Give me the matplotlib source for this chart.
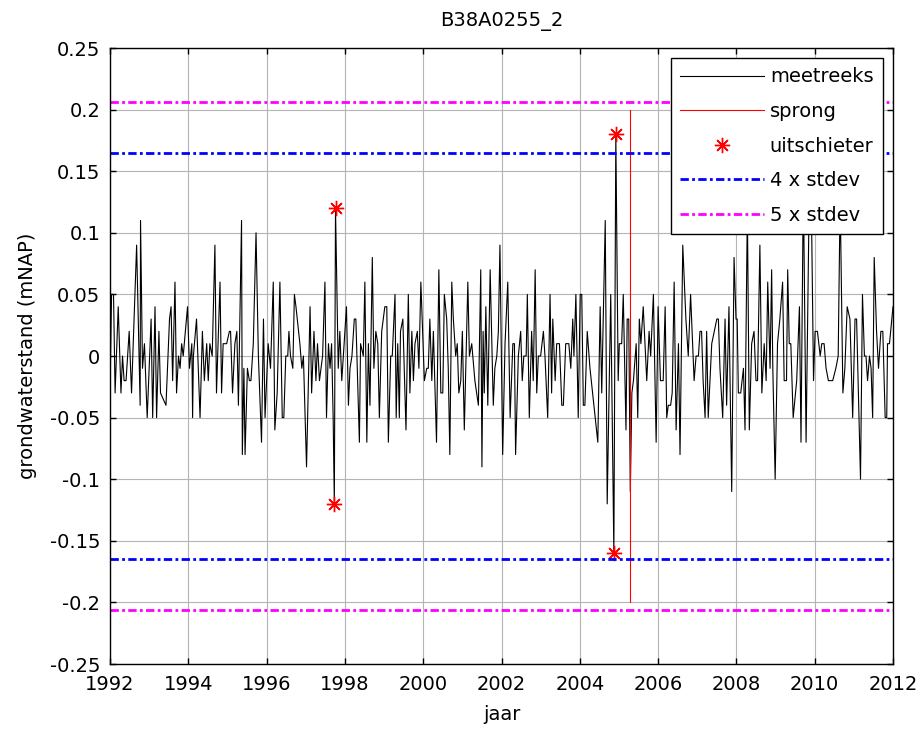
import matplotlib
matplotlib.use("Agg")
import matplotlib.pyplot as plt

plt.rcParams['font.family'] = ['DejaVu Sans']
plt.rcParams['font.size'] = 14

# meetreeks (jaar, grondwaterstand)
jaar = [
    1992.00, 1992.04, 1992.09, 1992.13, 1992.21, 1992.28, 1992.32, 1992.36, 1992.41, 1992.49, 1992.55, 1992.68, 1992.77, 1992.78, 1992.83, 1992.88, 1992.95,
    1993.05, 1993.09, 1993.15, 1993.19, 1993.25, 1993.29, 1993.43, 1993.52, 1993.56, 1993.60, 1993.66, 1993.70, 1993.75, 1993.79, 1993.83, 1993.87, 1993.98,
    1994.03, 1994.09, 1994.11, 1994.13, 1994.21, 1994.30, 1994.36, 1994.41, 1994.47, 1994.51, 1994.55, 1994.61, 1994.68, 1994.72, 1994.81, 1994.85, 1994.89, 1994.98,
    1995.05, 1995.08, 1995.13, 1995.19, 1995.24, 1995.28, 1995.36, 1995.38, 1995.42, 1995.45, 1995.51, 1995.56, 1995.60, 1995.66, 1995.73, 1995.79, 1995.87, 1995.92, 1995.96,
    1996.04, 1996.10, 1996.17, 1996.21, 1996.27, 1996.34, 1996.40, 1996.44, 1996.49, 1996.54, 1996.57, 1996.61, 1996.67, 1996.71, 1996.75, 1996.85, 1996.90, 1996.94,
    1997.02, 1997.11, 1997.15, 1997.21, 1997.26, 1997.30, 1997.35, 1997.43, 1997.49, 1997.53, 1997.58, 1997.62, 1997.66, 1997.70, 1997.73, 1997.76, 1997.83, 1997.87, 1997.92, 1997.96,
    1998.04, 1998.09, 1998.13, 1998.18, 1998.24, 1998.28, 1998.37, 1998.40, 1998.47, 1998.51, 1998.56, 1998.60, 1998.64, 1998.70, 1998.74, 1998.79, 1998.84, 1998.88, 1998.94,
    1999.02, 1999.07, 1999.11, 1999.17, 1999.21, 1999.28, 1999.31, 1999.35, 1999.39, 1999.42, 1999.48, 1999.56, 1999.62, 1999.66, 1999.71, 1999.75, 1999.79, 1999.85, 1999.89, 1999.94,
    2000.03, 2000.09, 2000.13, 2000.17, 2000.22, 2000.26, 2000.34, 2000.40, 2000.45, 2000.50, 2000.54, 2000.60, 2000.64, 2000.68, 2000.73, 2000.77, 2000.83, 2000.87, 2000.91, 2000.96,
    2001.00, 2001.05, 2001.14, 2001.18, 2001.24, 2001.32, 2001.41, 2001.47, 2001.50, 2001.53, 2001.56, 2001.60, 2001.65, 2001.71, 2001.79, 2001.83, 2001.88, 2001.92, 2001.96,
    2002.03, 2002.09, 2002.16, 2002.22, 2002.29, 2002.33, 2002.36, 2002.43, 2002.49, 2002.53, 2002.57, 2002.63, 2002.66, 2002.71, 2002.77, 2002.81, 2002.86, 2002.90, 2002.94,
    2003.00, 2003.07, 2003.11, 2003.18, 2003.24, 2003.28, 2003.31, 2003.37, 2003.41, 2003.48, 2003.54, 2003.58, 2003.64, 2003.72, 2003.77, 2003.82, 2003.85, 2003.90, 2003.96,
    2004.01, 2004.05, 2004.09, 2004.13, 2004.19, 2004.26, 2004.46, 2004.52, 2004.56, 2004.65, 2004.70, 2004.79, 2004.87, 2004.92, 2004.98,
    2005.01, 2005.07, 2005.11, 2005.18, 2005.21, 2005.25, 2005.29, 2005.33, 2005.37, 2005.44, 2005.48, 2005.52, 2005.56, 2005.62, 2005.71, 2005.77, 2005.81, 2005.88, 2005.95,
    2006.00, 2006.06, 2006.13, 2006.18, 2006.22, 2006.26, 2006.32, 2006.36, 2006.41, 2006.46, 2006.52, 2006.56, 2006.63, 2006.71, 2006.77, 2006.83, 2006.92, 2006.97,
    2007.03, 2007.07, 2007.11, 2007.15, 2007.20, 2007.24, 2007.28, 2007.37, 2007.50, 2007.54, 2007.58, 2007.65, 2007.71, 2007.75, 2007.81, 2007.88, 2007.94, 2007.99,
    2008.02, 2008.05, 2008.11, 2008.18, 2008.22, 2008.28, 2008.33, 2008.39, 2008.45, 2008.50, 2008.54, 2008.60, 2008.65, 2008.71, 2008.76, 2008.80, 2008.86, 2008.90, 2008.93, 2008.99,
    2009.05, 2009.11, 2009.18, 2009.22, 2009.28, 2009.31, 2009.35, 2009.39, 2009.45, 2009.54, 2009.61, 2009.65, 2009.71, 2009.78, 2009.86, 2009.92, 2009.97,
    2010.01, 2010.07, 2010.14, 2010.18, 2010.24, 2010.29, 2010.35, 2010.46, 2010.54, 2010.60, 2010.65, 2010.72, 2010.77, 2010.83, 2010.90, 2010.97,
    2011.03, 2011.07, 2011.17, 2011.22, 2011.27, 2011.31, 2011.35, 2011.40, 2011.44, 2011.48, 2011.52, 2011.58, 2011.63, 2011.69, 2011.74, 2011.80, 2011.84, 2011.86, 2011.91, 2011.97,
    2012.00,
]
stand = [
    -0.03, 0.05, 0.05, -0.03, 0.04, -0.03, 0.00, -0.02, -0.02, 0.02, -0.03, 0.09, -0.04, 0.11, -0.01, 0.01, -0.05,
    0.03, -0.05, 0.04, -0.05, 0.02, -0.03, -0.04, 0.03, 0.04, -0.02, 0.06, -0.03, 0.00, -0.01, 0.01, 0.00, 0.04,
    -0.01, 0.01, -0.05, 0.00, 0.03, -0.05, 0.02, -0.02, 0.01, -0.02, 0.01, 0.00, 0.09, -0.03, 0.06, -0.03, 0.01, 0.01,
    0.02, 0.02, -0.03, 0.01, 0.02, -0.04, 0.11, -0.08, -0.01, -0.08, -0.01, -0.02, -0.02, 0.01, 0.10, 0.00, -0.07, 0.03, -0.05,
    0.01, -0.01, 0.06, -0.06, -0.03, 0.06, -0.05, -0.05, 0.00, 0.00, 0.02, 0.00, -0.01, 0.05, 0.04, 0.01, -0.01, 0.00,
    -0.09, 0.04, -0.03, 0.02, -0.02, 0.01, -0.02, 0.00, 0.06, -0.05, 0.01, -0.01, 0.01, -0.05, -0.12, 0.12, -0.01, 0.02, -0.02, 0.00,
    0.04, -0.04, -0.01, 0.00, 0.03, 0.03, -0.07, 0.01, 0.00, 0.06, -0.07, 0.01, -0.04, 0.08, -0.01, 0.02, 0.01, -0.05, 0.02,
    0.04, 0.04, -0.07, 0.00, 0.00, 0.05, -0.05, 0.01, -0.05, 0.02, 0.03, -0.06, 0.05, -0.03, 0.02, -0.02, 0.01, 0.02, -0.01, 0.06,
    -0.02, -0.01, -0.01, 0.03, -0.02, 0.02, -0.07, 0.07, -0.03, -0.03, 0.05, 0.03, -0.01, -0.08, 0.06, 0.03, 0.00, 0.01, -0.03, -0.02,
    0.02, -0.06, 0.06, 0.00, 0.01, -0.02, -0.04, 0.07, -0.09, 0.02, -0.03, 0.04, -0.04, 0.07, -0.04, -0.01, 0.00, 0.02, 0.09,
    -0.08, 0.01, 0.06, -0.05, 0.01, 0.01, -0.08, 0.00, 0.02, -0.02, 0.00, 0.00, 0.05, -0.05, 0.02, -0.02, 0.07, -0.03, 0.00,
    0.00, 0.02, 0.00, -0.05, 0.05, -0.03, 0.03, -0.02, 0.01, 0.01, -0.04, -0.04, 0.01, 0.01, -0.01, 0.03, 0.00, 0.05, -0.05,
    0.05, 0.05, -0.04, -0.04, 0.02, -0.01, -0.07, 0.04, -0.03, 0.11, -0.12, 0.05, -0.16, 0.18, -0.02,
    0.01, 0.01, 0.05, -0.06, 0.03, 0.03, -0.11, -0.03, -0.02, 0.01, -0.05, 0.03, 0.01, 0.04, -0.02, 0.02, 0.00, 0.05, -0.07,
    0.04, -0.02, -0.02, 0.04, -0.05, -0.04, -0.04, -0.03, 0.06, -0.06, 0.01, -0.08, 0.09, 0.03, 0.00, 0.05, -0.02, 0.00,
    0.00, 0.02, 0.02, -0.02, -0.05, 0.02, -0.05, 0.01, 0.03, 0.03, -0.01, -0.05, 0.03, -0.04, 0.04, -0.11, 0.08, 0.03,
    0.03, -0.03, -0.03, -0.01, -0.06, 0.12, -0.06, 0.01, 0.02, -0.02, -0.02, 0.09, -0.03, 0.01, -0.02, 0.06, -0.01, 0.07, -0.01, -0.10,
    0.01, 0.03, 0.06, -0.02, -0.02, 0.07, 0.01, 0.01, -0.05, -0.02, 0.04, -0.07, 0.14, -0.07, 0.13, 0.11, -0.02,
    0.02, 0.02, 0.00, 0.01, 0.01, -0.01, -0.02, -0.02, -0.01, 0.00, 0.13, -0.03, -0.01, 0.04, 0.03, -0.05,
    0.03, 0.03, -0.10, 0.05, 0.00, 0.00, -0.02, 0.00, -0.01, -0.05, 0.08, 0.02, -0.01, 0.02, 0.02, -0.05, -0.05, 0.01, 0.01, 0.03,
    0.04,
]

# uitschieters
uit_jaar = [1997.73, 1997.76, 2004.87, 2004.92]
uit_stand = [-0.12, 0.12, -0.16, 0.18]

# sprong
sprong_jaar = [2005.29, 2005.29]
sprong_stand = [-0.2, 0.2]

# grenzen
sd4 = 0.165
sd5 = 0.2065

xticks = list(range(1992, 2013, 2))
yticks = [-0.25, -0.2, -0.15, -0.1, -0.05, 0, 0.05, 0.1, 0.15, 0.2, 0.25]
ylabels = ['-0.25', '-0.2', '-0.15', '-0.1', '-0.05', '0', '0.05', '0.1', '0.15', '0.2', '0.25']

fig = plt.figure(figsize=(9.22, 7.29), dpi=100)
ax = fig.add_axes([110 / 922, 65 / 729, 783 / 922, 616 / 729])

ax.plot(jaar, stand, color='black', lw=0.8, label='meetreeks')
ax.plot(sprong_jaar, sprong_stand, color='red', lw=0.8, label='sprong')
ax.plot(uit_jaar, uit_stand, ls='none', marker=(8, 2, 0), ms=11, mew=1,
        color='red', label='uitschieter')
ax.plot([1992, 2012], [sd4, sd4], color='blue', lw=2, ls='-.',
        dashes=(3, 1.2, 1, 1.2), label='4 x stdev')
ax.plot([1992, 2012], [sd5, sd5], color='magenta', lw=2, ls='-.',
        dashes=(3, 1.2, 1, 1.2), label='5 x stdev')
ax.plot([1992, 2012], [-sd4, -sd4], color='blue', lw=2, ls='-.',
        dashes=(3, 1.2, 1, 1.2))
ax.plot([1992, 2012], [-sd5, -sd5], color='magenta', lw=2, ls='-.',
        dashes=(3, 1.2, 1, 1.2))

ax.set_xlim(1992, 2012)
ax.set_ylim(-0.25, 0.25)
ax.set_xticks(xticks)
ax.set_yticks(yticks)
ax.set_yticklabels(ylabels)
ax.grid(True, color='#b4b4b4', lw=0.8)
ax.set_axisbelow(True)
ax.tick_params(direction='in', top=True, right=True, length=4, width=1,
               labelsize=14)
ax.tick_params(axis='y', pad=7)
ax.tick_params(axis='x', pad=8)
for s in ax.spines.values():
    s.set_linewidth(1)

ax.set_title('B38A0255_2', fontsize=14, pad=16)
ax.set_xlabel('jaar', fontsize=14, labelpad=8)
ax.set_ylabel('grondwaterstand (mNAP)', fontsize=14, labelpad=9)

leg = ax.legend(loc='upper right', fontsize=14, fancybox=False, framealpha=1,
                edgecolor='black', handlelength=4.3, handletextpad=0.3,
                labelspacing=0.8, borderpad=0.5, borderaxespad=0.5)
leg.get_frame().set_linewidth(1)

fig.savefig('out.png', dpi=100)
